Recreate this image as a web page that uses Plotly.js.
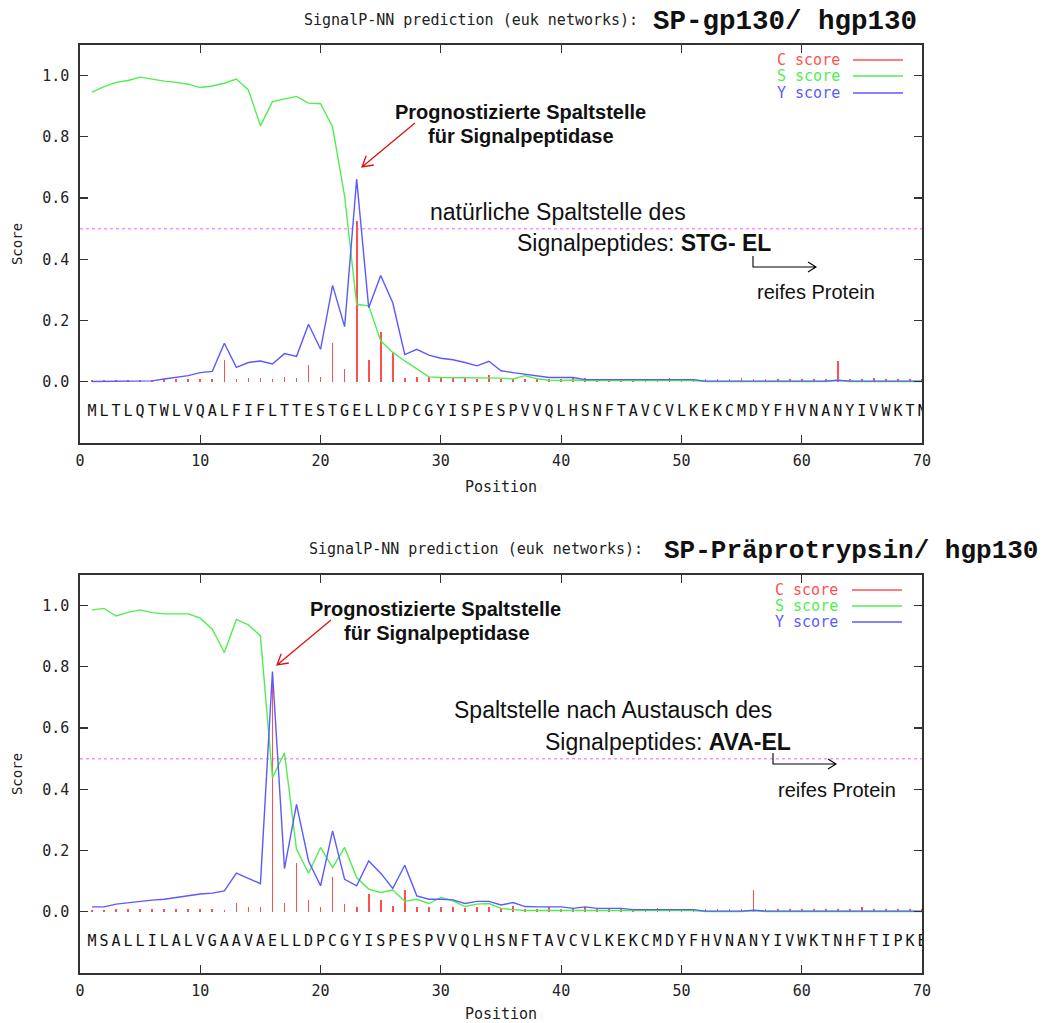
<!DOCTYPE html>
<html>
<head>
<meta charset="utf-8">
<script src="https://cdn.plot.ly/plotly-3.0.1.min.js"></script>
<style>html,body{margin:0;padding:0;background:#fff;}#chart{width:1047px;height:1023px;}</style>
</head>
<body>
<div id="chart"></div>
<script>
// ---------------- DATA ----------------
const positions = Array.from({length: 70}, (_, i) => i + 1);

const seqTop = "MLTLQTWLVQALFIFLTTESTGELLDPCGYISPESPVVQLHSNFTAVCVLKEKCMDYFHVNANYIVWKTN".split("");
const seqBot = "MSALLILALVGAAVAELLDPCGYISPESPVVQLHSNFTAVCVLKEKCMDYFHVNANYIVWKTNHFTIPKE".split("");

const cTop = [0.007,0.007,0.007,0.007,0.007,0.007,0.008,0.009,0.009,0.009,
              0.009,0.071,0.009,0.012,0.012,0.009,0.017,0.012,0.056,0.017,
              0.128,0.041,0.524,0.071,0.161,0.096,0.012,0.017,0.017,0.012,
              0.012,0.012,0.009,0.022,0.009,0.009,0.009,0.009,0.009,0.009,
              0.014,0.011,0.009,0.009,0.009,0.009,0.009,0.009,0.012,0.009,
              0.009,0.009,0.009,0.009,0.013,0.008,0.008,0.008,0.008,0.008,
              0.008,0.008,0.068,0.008,0.008,0.011,0.008,0.008,0.008,0.008];
const sTop = [0.946,0.964,0.978,0.984,0.995,0.988,0.982,0.978,0.972,0.961,
              0.966,0.975,0.989,0.953,0.836,0.915,0.923,0.932,0.910,0.908,
              0.832,0.606,0.253,0.248,0.134,0.096,0.068,0.041,0.016,0.014,
              0.014,0.014,0.014,0.014,0.012,0.009,0.020,0.010,0.005,0.004,
              0.006,0.004,0.004,0.004,0.004,0.004,0.004,0.004,0.004,0.004,
              0.004,0.001,0.001,0.001,0.001,0.001,0.001,0.001,0.001,0.001,
              0.001,0.001,0.005,0.001,0.001,0.001,0.001,0.001,0.001,0.001];
const yTop = [0.001,0.001,0.001,0.001,0.001,0.003,0.009,0.014,0.020,0.030,
              0.034,0.126,0.047,0.063,0.068,0.058,0.092,0.083,0.188,0.106,
              0.315,0.180,0.662,0.242,0.347,0.258,0.089,0.106,0.087,0.077,
              0.072,0.063,0.052,0.067,0.036,0.030,0.025,0.020,0.014,0.014,
              0.014,0.007,0.007,0.007,0.007,0.007,0.007,0.007,0.007,0.007,
              0.007,0.002,0.002,0.002,0.002,0.002,0.002,0.002,0.002,0.002,
              0.002,0.002,0.005,0.002,0.002,0.002,0.002,0.002,0.002,0.002];

const cBot = [0.007,0.007,0.009,0.009,0.009,0.009,0.009,0.009,0.009,0.009,
              0.009,0.007,0.028,0.017,0.014,0.742,0.028,0.159,0.038,0.014,
              0.112,0.024,0.014,0.058,0.038,0.020,0.072,0.014,0.014,0.014,
              0.014,0.011,0.017,0.017,0.011,0.020,0.009,0.009,0.014,0.009,
              0.011,0.014,0.009,0.009,0.009,0.009,0.009,0.012,0.008,0.008,
              0.008,0.008,0.008,0.008,0.008,0.071,0.008,0.008,0.008,0.008,
              0.008,0.008,0.008,0.008,0.014,0.008,0.008,0.008,0.008,0.008];
const sBot = [0.986,0.991,0.966,0.978,0.986,0.977,0.973,0.973,0.973,0.959,
              0.923,0.847,0.955,0.937,0.901,0.438,0.519,0.204,0.126,0.210,
              0.144,0.210,0.112,0.074,0.063,0.071,0.034,0.041,0.027,0.047,
              0.036,0.017,0.025,0.027,0.011,0.007,0.004,0.004,0.004,0.004,
              0.004,0.004,0.004,0.004,0.004,0.004,0.004,0.004,0.004,0.004,
              0.004,0.001,0.001,0.001,0.001,0.004,0.001,0.001,0.001,0.001,
              0.001,0.001,0.001,0.001,0.001,0.001,0.001,0.001,0.001,0.001];
const yBot = [0.016,0.016,0.025,0.030,0.034,0.038,0.041,0.047,0.052,0.058,
              0.061,0.068,0.126,0.109,0.092,0.785,0.141,0.351,0.166,0.085,
              0.264,0.106,0.085,0.166,0.126,0.076,0.152,0.052,0.041,0.041,
              0.039,0.027,0.034,0.034,0.022,0.030,0.017,0.016,0.016,0.016,
              0.011,0.016,0.011,0.011,0.011,0.007,0.007,0.007,0.007,0.007,
              0.007,0.002,0.002,0.002,0.002,0.005,0.002,0.002,0.002,0.002,
              0.002,0.002,0.002,0.002,0.002,0.002,0.002,0.002,0.002,0.002];

const threshold = 0.5;
const xTickVals = [0,10,20,30,40,50,60,70];
const yTickVals = [0,0.2,0.4,0.6,0.8,1.0];
const seqRow = [-0.1];
const legendNames = ["C score","S score","Y score"];

// ---------------- STYLE / LAYOUT HELPERS ----------------
const L = 80, R = 922, T = 45, B = 973;
const px = p => (p - L) / (R - L);
const py = p => (B - p) / (B - T);
const COL = {c: '#ff5050', s: '#50ee50', y: '#5a5aff'};
const MONO = 'DejaVu Sans Mono, monospace';
const SANS = 'Liberation Sans, Arial, sans-serif';
const COUR = 'Liberation Mono, Courier New, monospace';

function seriesTraces(c, s, y, seq, xa, ya) {
  return [
    {type: 'bar', x: positions, y: c, xaxis: xa, yaxis: ya, width: 0.14,
     marker: {color: COL.c, line: {width: 0}}, name: legendNames[0], showlegend: false, hoverinfo: 'x+y'},
    {type: 'scatter', mode: 'lines', x: positions, y: s, xaxis: xa, yaxis: ya,
     line: {color: COL.s, width: 1.4}, name: legendNames[1], showlegend: false},
    {type: 'scatter', mode: 'lines', x: positions, y: y, xaxis: xa, yaxis: ya,
     line: {color: COL.y, width: 1.4}, name: legendNames[2], showlegend: false},
    {type: 'scatter', mode: 'text', x: positions, y: positions.map(() => seqRow[0]), text: seq,
     xaxis: xa, yaxis: ya, textfont: {family: MONO, size: 15, color: '#111'},
     textposition: 'middle center', showlegend: false, hoverinfo: 'skip'}
  ];
}

const data = [
  ...seriesTraces(cTop, sTop, yTop, seqTop, 'x', 'y'),
  ...seriesTraces(cBot, sBot, yBot, seqBot, 'x2', 'y2')
];

function xAxis(anchor) {
  return {anchor: anchor, domain: [0, 1], range: [0, 70], tickvals: xTickVals,
    ticks: 'inside', ticklen: 8, tickwidth: 1.2, tickcolor: '#333',
    showline: true, linecolor: '#333', linewidth: 1.6, mirror: 'ticks',
    showgrid: false, zeroline: false, ticklabelstandoff: 3,
    tickfont: {family: MONO, size: 15, color: '#222'},
    title: {text: 'Position', font: {family: MONO, size: 15, color: '#222'}, standoff: 13}};
}
function yAxis(anchor, dom) {
  return {anchor: anchor, domain: dom, range: [-0.2, 1.1], tickvals: yTickVals, tickformat: '.1f',
    ticks: 'inside', ticklen: 8, tickwidth: 1.2, tickcolor: '#333',
    showline: true, linecolor: '#333', linewidth: 1.6, mirror: 'ticks',
    showgrid: false, zeroline: false, ticklabelstandoff: 6,
    tickfont: {family: MONO, size: 15, color: '#222'},
    title: {text: 'Score', font: {family: MONO, size: 14, color: '#222'}, standoff: 16}};
}

function pathOf(segments) {
  return segments.map(seg => seg.map((p, i) => (i ? 'L' : 'M') + px(p[0]).toFixed(5) + ',' + py(p[1]).toFixed(5)).join(' ')).join(' ');
}
function pshape(segments, color, width) {
  return {type: 'path', xref: 'paper', yref: 'paper', path: pathOf(segments), line: {color: color, width: width}};
}

const shapes = [
  {type: 'line', xref: 'x', yref: 'y', x0: 0, x1: 70, y0: threshold, y1: threshold, layer: 'below',
   line: {color: '#ff90ff', width: 1.6, dash: 'dot'}},
  {type: 'line', xref: 'x2', yref: 'y2', x0: 0, x1: 70, y0: threshold, y1: threshold, layer: 'below',
   line: {color: '#ff90ff', width: 1.6, dash: 'dot'}},
  // red annotation arrows
  pshape([[[415,123],[362,167]], [[373.8,165],[362,167],[366.2,155.7]]], '#e01010', 1.3),
  pshape([[[331,620],[277,665]], [[288.8,663],[277,665],[281.2,653.7]]], '#e01010', 1.3),
  // bent black arrows
  pshape([[[753,256],[753,267],[816,267]], [[808,262],[816,267],[808,272]]], '#000', 1.1),
  pshape([[[773,753],[773,764],[836,764]], [[828,759],[836,764],[828,769]]], '#000', 1.1),
  // legend samples
  pshape([[[853,60],[903,60]]], COL.c, 1.5),
  pshape([[[853,76],[903,76]]], COL.s, 1.5),
  pshape([[[853,93],[903,93]]], COL.y, 1.5),
  pshape([[[852,590],[902,590]]], COL.c, 1.5),
  pshape([[[852,606],[902,606]]], COL.s, 1.5),
  pshape([[[852,622],[902,622]]], COL.y, 1.5)
];

function ann(text, x, y, xanchor, font) {
  return {text: text, x: px(x), y: py(y), xref: 'paper', yref: 'paper', xanchor: xanchor, yanchor: 'middle',
          showarrow: false, font: font, align: 'left'};
}
const annotations = [
  ann('SignalP-NN prediction (euk networks):', 640, 20, 'right', {family: MONO, size: 15, color: '#222'}),
  ann('<b>SP-gp130/ hgp130</b>', 651, 22, 'left', {family: COUR, size: 27.5, color: '#111'}),
  ann('SignalP-NN prediction (euk networks):', 645, 549, 'right', {family: MONO, size: 15, color: '#222'}),
  ann('<b>SP-Präprotrypsin/ hgp130</b>', 662, 551, 'left', {family: COUR, size: 26, color: '#111'}),

  ann('<b>Prognostizierte Spaltstelle</b>', 520, 112, 'center', {family: SANS, size: 20, color: '#111'}),
  ann('<b>für Signalpeptidase</b>', 521, 136, 'center', {family: SANS, size: 20, color: '#111'}),
  ann('natürliche Spaltstelle des', 428, 212, 'left', {family: SANS, size: 23, color: '#111'}),
  ann('Signalpeptides: <b>STG- EL</b>', 515, 243, 'left', {family: SANS, size: 23, color: '#111'}),
  ann('reifes Protein', 755, 292, 'left', {family: SANS, size: 20, color: '#111'}),

  ann('<b>Prognostizierte Spaltstelle</b>', 435, 609, 'center', {family: SANS, size: 20, color: '#111'}),
  ann('<b>für Signalpeptidase</b>', 437, 633, 'center', {family: SANS, size: 20, color: '#111'}),
  ann('Spaltstelle nach Austausch des', 452, 710, 'left', {family: SANS, size: 23, color: '#111'}),
  ann('Signalpeptides: <b>AVA-EL</b>', 543, 742, 'left', {family: SANS, size: 23, color: '#111'}),
  ann('reifes Protein', 776, 790, 'left', {family: SANS, size: 20, color: '#111'}),

  ann(legendNames[0], 842, 60, 'right', {family: MONO, size: 15, color: COL.c}),
  ann(legendNames[1], 842, 76, 'right', {family: MONO, size: 15, color: COL.s}),
  ann(legendNames[2], 842, 93, 'right', {family: MONO, size: 15, color: COL.y}),
  ann(legendNames[0], 840, 590, 'right', {family: MONO, size: 15, color: COL.c}),
  ann(legendNames[1], 840, 606, 'right', {family: MONO, size: 15, color: COL.s}),
  ann(legendNames[2], 840, 622, 'right', {family: MONO, size: 15, color: COL.y})
];

const layout = {
  width: 1047, height: 1023,
  margin: {l: L, r: 1047 - R, t: T, b: 1023 - B, pad: 0},
  paper_bgcolor: '#fff', plot_bgcolor: '#fff',
  showlegend: false, bargap: 0,
  xaxis: xAxis('y'),
  yaxis: yAxis('x', [py(443), 1]),
  xaxis2: xAxis('y2'),
  yaxis2: yAxis('x2', [0, py(575)]),
  shapes: shapes,
  annotations: annotations
};

Plotly.newPlot('chart', data, layout, {displayModeBar: false, staticPlot: true});
</script>
</body>
</html>
